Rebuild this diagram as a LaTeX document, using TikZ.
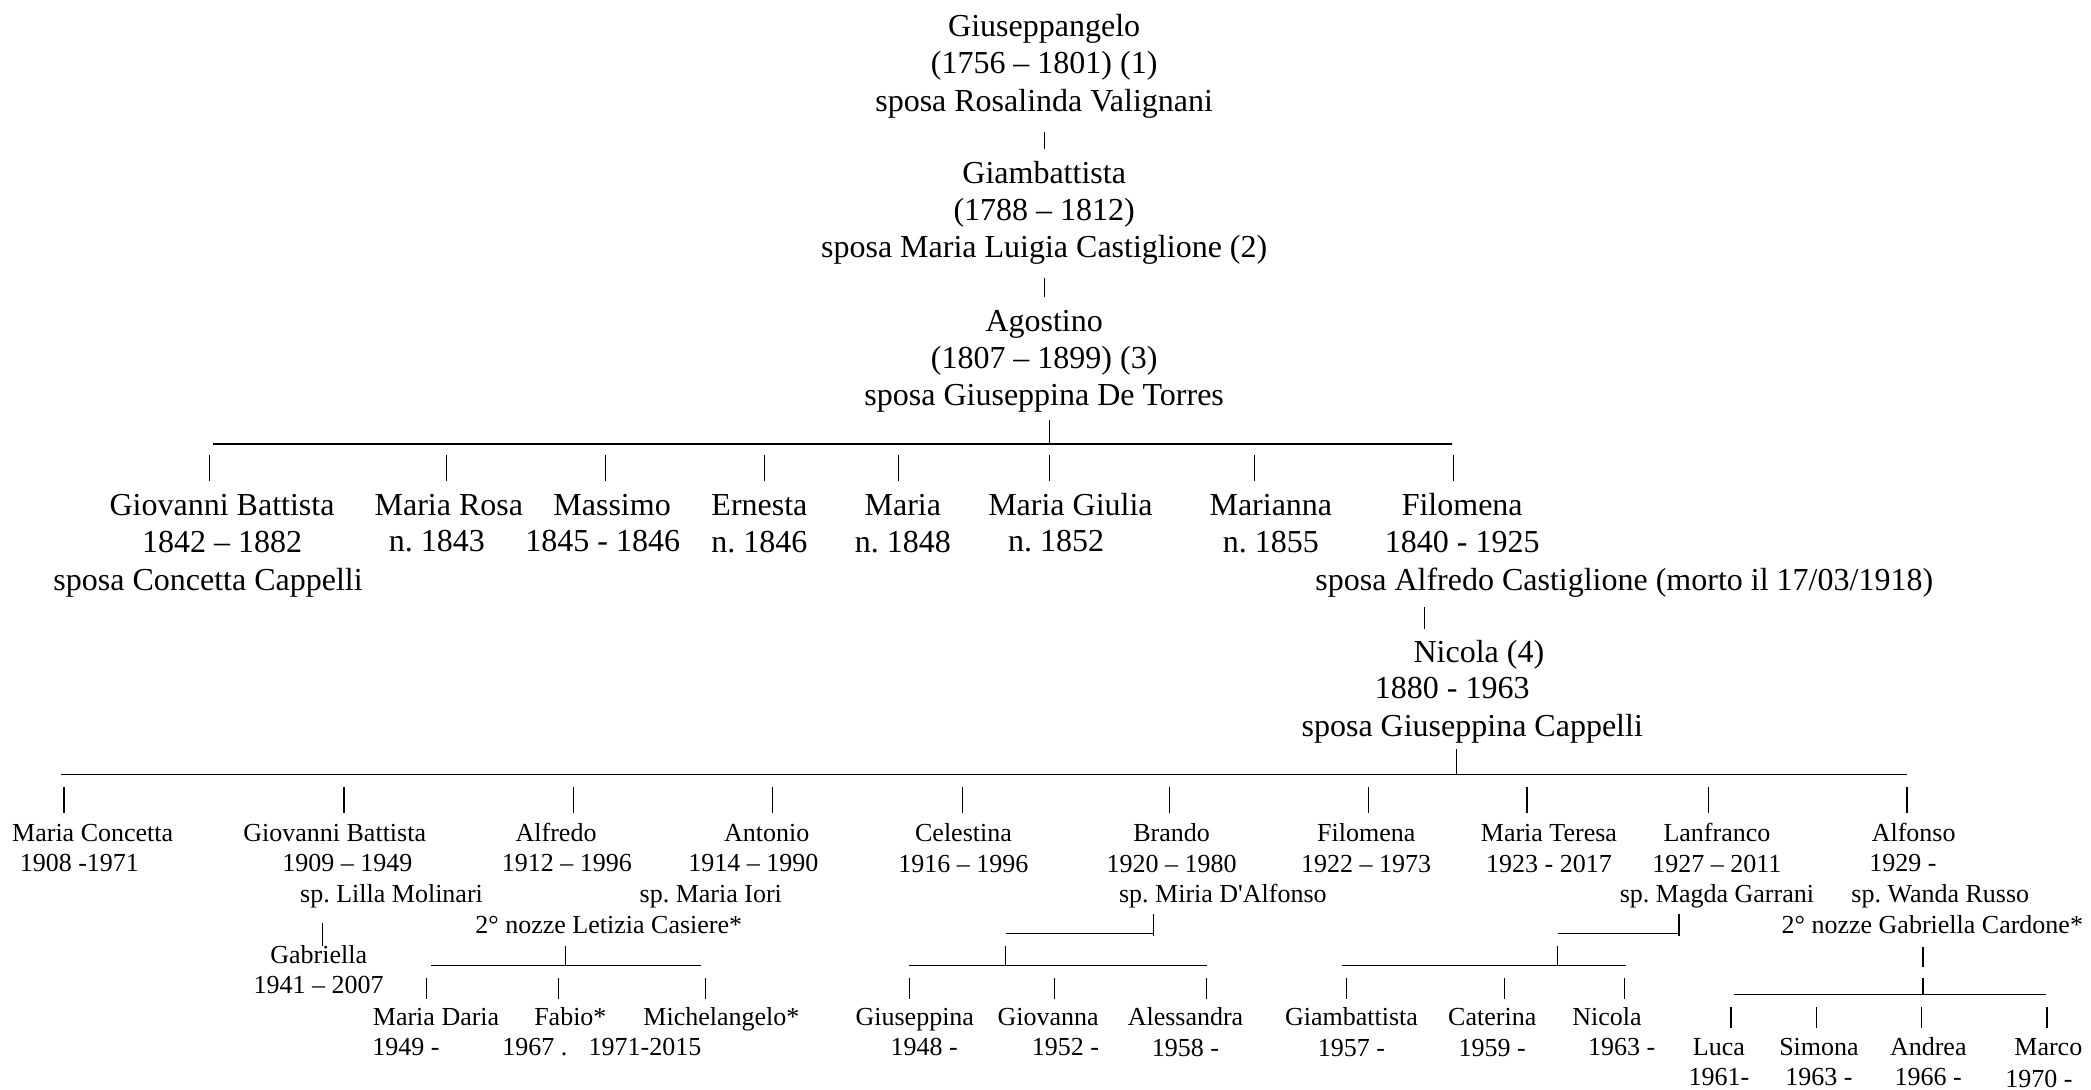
\documentclass[tikz,border=0pt]{standalone}
\usepackage{fontspec}
\setmainfont{Liberation Serif}
\usetikzlibrary{positioning}

\begin{document}
\begin{tikzpicture}[x=0.6668pt, y=-0.6668pt,
    big name/.style={font=\fontsize{16}{18.6}\selectfont\frenchspacing, align=center, inner sep=0pt, anchor=north, yshift=8.2pt, execute at begin node=\strut},
    small name/.style={font=\fontsize{13}{15.3}\selectfont\frenchspacing, align=center, inner sep=0pt, anchor=north, yshift=6.8pt, execute at begin node=\strut},
    tie/.style={line width=0.6pt}]
    \useasboundingbox (0,0) rectangle (1568,817);

    \node[big name] (gius) at (783,20) {\strut Giuseppangelo\\(1756 – 1801) (1)\\sposa Rosalinda Valignani};
    \node[big name] (giamb) at (783,130) {\strut Giambattista\\(1788 – 1812)\\sposa Maria Luigia Castiglione (2)};
    \node[big name] (agost) at (783,241) {\strut Agostino\\(1807 – 1899) (3)\\sposa Giuseppina De Torres};
    \draw[tie] ([yshift=-4.5pt]gius.south) -- ([yshift=3.8pt]giamb.north);
    \draw[tie] ([yshift=-4.5pt]giamb.south) -- ([yshift=3.8pt]agost.north);

    \coordinate (barA-l) at (160,333);
    \coordinate (barA-r) at (1089,333);
    \coordinate (barA-m) at (787,333);
    \draw[tie] (barA-l) -- (barA-r);
    \draw[tie] (barA-m) -- ++(0,-18);
    \foreach \x in {157,335,454,573,674,787,941,1090}
        \draw[tie] (\x,341) -- ++(0,20);

    \node[big name] (gba) at (166.5,379) {\strut Giovanni Battista\\1842 – 1882};
    \node[big name] (gbasp) at (156,435) {sposa Concetta Cappelli};
    \node[big name] (mrosa) at (336.6,379) {Maria Rosa};
    \node[big name] (mrosad) at (327.6,406) {n. 1843};
    \node[big name] (massimo) at (459,379) {Massimo};
    \node[big name] (massimod) at (452,406) {1845 - 1846};
    \node[big name] (ernesta) at (569.5,379) {\strut Ernesta\\n. 1846};
    \node[big name] (maria) at (677,379) {\strut Maria\\n. 1848};
    \node[big name] (mgiulia) at (802.7,379) {Maria Giulia};
    \node[big name] (mgiuliad) at (792,406) {n. 1852};
    \node[big name] (marianna) at (953,379) {\strut Marianna\\n. 1855};
    \node[big name] (filo) at (1096.5,379) {\strut Filomena\\1840 - 1925};
    \node[big name] (filosp) at (1218,435) {sposa Alfredo Castiglione (morto il 17/03/1918)};
    \coordinate (filo-drop) at (1068,455);
    \draw[tie] (filo-drop) -- ++(0,17);
    \node[big name] (nicola) at (1109,489) {Nicola (4)};
    \node[big name] (nicolad) at (1089,516) {1880 - 1963};
    \node[big name] (nicolasp) at (1104,544.5) {sposa Giuseppina Cappelli};

    \coordinate (barB-l) at (46,581);
    \coordinate (barB-r) at (1430,581);
    \coordinate (barB-m) at (1092,581);
    \draw[tie] (barB-l) -- (barB-r);
    \draw[tie] (barB-m) -- ++(0,-19);
    \foreach \x in {48,258,430,579,722,877,1026,1145,1281,1430}
        \draw[tie] (\x,590) -- ++(0,20);

    \node[small name] (mconc) at (69.5,625) {Maria Concetta};
    \node[small name] (mconcd) at (59.5,647) {1908 -1971};
    \node[small name] (gbb) at (251,625) {Giovanni Battista};
    \node[small name] (gbbd) at (260.5,647) {1909 – 1949};
    \node[small name] (gbbsp) at (293.6,670.5) {sp. Lilla Molinari};
    \coordinate (gbb-drop) at (242,692);
    \draw[tie] (gbb-drop) -- ++(0,17);
    \node[small name] (gabri) at (239,716) {\strut Gabriella\\1941 – 2007};
    \node[small name] (alfredo) at (417,625) {Alfredo};
    \node[small name] (alfredod) at (425,647) {1912 – 1996};
    \node[small name] (alfredon) at (456.5,694) {2° nozze Letizia Casiere*};
    \node[small name] (antonio) at (575,625) {Antonio};
    \node[small name] (antoniod) at (565,647) {1914 – 1990};
    \node[small name] (antoniosp) at (533,670.5) {sp. Maria Iori};
    \node[small name] (celestina) at (722.5,625) {\strut Celestina\\1916 – 1996};
    \node[small name] (brando) at (878.5,625) {\strut Brando\\1920 – 1980};
    \node[small name] (brandosp) at (917,670.5) {sp. Miria D\textquotesingle Alfonso};
    \node[small name] (filob) at (1024.5,625) {\strut Filomena\\1922 – 1973};
    \node[small name] (mteresa) at (1161.5,625) {\strut Maria Teresa\\1923 - 2017};
    \node[small name] (lanfranco) at (1287.5,625) {\strut Lanfranco\\1927 – 2011\\sp. Magda Garrani};
    \node[small name] (alfonso) at (1435,625) {Alfonso};
    \node[small name] (alfonsod) at (1427,647) {1929 -};
    \node[small name] (alfonsosp) at (1455,670.5) {sp. Wanda Russo};
    \node[small name] (alfonson) at (1449,694) {2° nozze Gabriella Cardone*};

    \coordinate (alfredo-l) at (323,724);
    \coordinate (alfredo-r) at (526,724);
    \coordinate (alfredo-m) at (424,724);
    \draw[tie] (alfredo-l) -- (alfredo-r);
    \draw[tie] (alfredo-m) -- ++(0,-15);
    \foreach \x in {320,419,529}
        \draw[tie] (\x,733) -- ++(0,16);

    \coordinate (brando-a) at (754,700);
    \coordinate (brando-b) at (865,700);
    \draw[tie] (brando-a) -- (brando-b);
    \draw[tie] ([yshift=-1pt]brando-b) -- ++(0,-16);
    \coordinate (brando-l) at (682,724);
    \coordinate (brando-r) at (905,724);
    \coordinate (brando-m) at (754,724);
    \draw[tie] (brando-l) -- (brando-r);
    \draw[tie] (brando-m) -- ++(0,-15);
    \foreach \x in {682,791,905}
        \draw[tie] (\x,733) -- ++(0,16);

    \coordinate (lanfr-a) at (1168,700);
    \coordinate (lanfr-b) at (1259,700);
    \draw[tie] (lanfr-a) -- (lanfr-b);
    \draw[tie] ([yshift=-1pt]lanfr-b) -- ++(0,-16);
    \coordinate (lanfr-l) at (1006,724);
    \coordinate (lanfr-r) at (1219,724);
    \coordinate (lanfr-m) at (1168,724);
    \draw[tie] (lanfr-l) -- (lanfr-r);
    \draw[tie] (lanfr-m) -- ++(0,-15);
    \foreach \x in {1010,1128,1218}
        \draw[tie] (\x,733) -- ++(0,16);

    \coordinate (alfonso-drop) at (1442,710);
    \draw[tie] (alfonso-drop) -- ++(0,15);
    \coordinate (alfonso-l) at (1300,746);
    \coordinate (alfonso-r) at (1534,746);
    \coordinate (alfonso-m) at (1442,746);
    \draw[tie] (alfonso-l) -- (alfonso-r);
    \draw[tie] (alfonso-m) -- ++(0,-13);
    \foreach \x in {1298,1362,1441,1535}
        \draw[tie] (\x,755) -- ++(0,16);

    \node[small name] (mdaria) at (327,763) {Maria Daria};
    \node[small name] (mdariad) at (304.5,785) {1949 -};
    \node[small name] (fabio) at (427.7,763) {Fabio*};
    \node[small name] (fabiod) at (401,785) {1967 .};
    \node[small name] (michel) at (541,763) {Michelangelo*};
    \node[small name] (micheld) at (483.7,785) {1971-2015};
    \node[small name] (giusep) at (686,763) {Giuseppina};
    \node[small name] (giusepd) at (693,785) {1948 -};
    \node[small name] (giovanna) at (786,763) {Giovanna};
    \node[small name] (giovannad) at (799,785) {1952 -};
    \node[small name] (alessandra) at (889,763) {\strut Alessandra\\1958 -};
    \node[small name] (giamc) at (1013.5,763) {\strut Giambattista\\1957 -};
    \node[small name] (caterina) at (1119,763) {\strut Caterina\\1959 -};
    \node[small name] (nicolac) at (1205,763) {Nicola};
    \node[small name] (nicolacd) at (1216,785) {1963 -};
    \node[small name] (luca) at (1289,785) {\strut Luca\\1961-};
    \node[small name] (simona) at (1364,785) {\strut Simona\\1963 -};
    \node[small name] (andrea) at (1446,785) {\strut Andrea\\1966 -};
    \node[small name] (marco) at (1536,785) {Marco};
    \node[small name] (marcod) at (1529,809) {1970 -};

\end{tikzpicture}
\end{document}
